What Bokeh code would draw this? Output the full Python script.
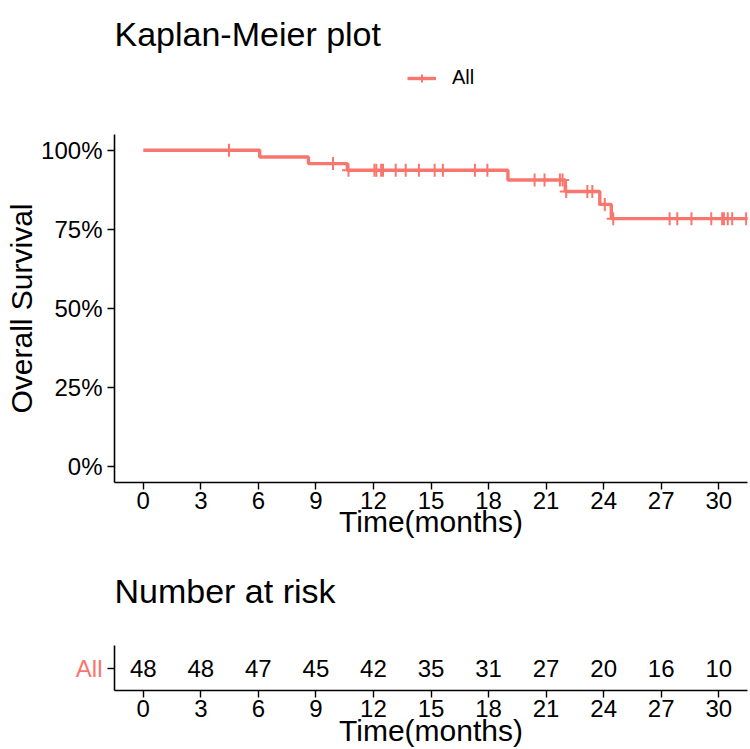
import numpy as np
from bokeh.plotting import figure
from bokeh.layouts import column
from bokeh.models import (Range1d, FixedTicker, NumeralTickFormatter, Legend, LegendItem,
                          ColumnDataSource, Label)
from bokeh.core.properties import value
from bokeh.embed import file_html
from bokeh.resources import INLINE

# ---- data ----
step_times = [0.0, 6.07, 8.61, 10.64, 19.01, 22.0, 23.8, 24.4]
surv = [1.0, 0.979, 0.958, 0.937, 0.906, 0.870, 0.829, 0.784]
curve_end = 32.0
censor_times = [4.47, 9.89, 10.7, 12.05, 12.15, 12.4, 12.5, 13.16, 13.68, 14.37,
                15.19, 15.62, 17.29, 17.94, 20.4, 20.92, 21.72, 21.86, 22.05,
                23.15, 23.41, 24.06, 24.5, 27.44, 27.84, 28.58, 29.61, 30.18,
                30.27, 30.47, 30.7, 31.43]
risk_times = [0, 3, 6, 9, 12, 15, 18, 21, 24, 27, 30]
risk_counts = [48, 48, 47, 45, 42, 35, 31, 27, 20, 16, 10]
x_ticks = [0, 3, 6, 9, 12, 15, 18, 21, 24, 27, 30]
y_ticks = [0, 0.25, 0.5, 0.75, 1.0]
group = "All"
main_title = "Kaplan-Meier plot"
risk_title = "Number at risk"
x_label = "Time(months)"
y_label = "Overall Survival"

COL = "#F8766D"
FONT = "Liberation Sans"
TICK = "24px"
AXL = "30px"
TITLE = "34px"
W = 750
LEFT = 114
RIGHT = 3

xs = step_times + [curve_end]
ys = surv + [surv[-1]]
idx = np.searchsorted(np.array(step_times), np.array(censor_times), side="right") - 1
c_y = [surv[i] for i in idx]

x_range = Range1d(-1.5, 31.5)


def style_axes(fig):
    for ax in (fig.xaxis[0], fig.yaxis[0]):
        ax.axis_line_color = "black"
        ax.axis_line_width = 1.6
        ax.major_tick_line_color = "black"
        ax.major_tick_line_width = 1.4
        ax.major_tick_out = 7
        ax.major_tick_in = 0
        ax.minor_tick_line_color = None
        ax.major_label_text_font = FONT
        ax.major_label_text_font_size = TICK
        ax.major_label_text_color = "black"
        ax.axis_label_text_font = FONT
        ax.axis_label_text_font_size = AXL
        ax.axis_label_text_font_style = "normal"
        ax.axis_label_text_color = "black"
    fig.xaxis.major_label_standoff = 2
    fig.yaxis.major_label_standoff = 5
    fig.xgrid.grid_line_color = None
    fig.ygrid.grid_line_color = None
    fig.outline_line_color = None


def header(h):
    # frame spans the header in page pixels (x) and from the top (y)
    f = figure(width=W, height=h, x_range=Range1d(LEFT, W - RIGHT),
               y_range=Range1d(h, 0), title=None,
               output_backend="svg", toolbar_location=None,
               x_axis_location=None, y_axis_location=None,
               min_border_left=LEFT, min_border_right=RIGHT,
               min_border_top=0, min_border_bottom=0)
    f.grid.grid_line_color = None
    f.outline_line_color = None
    return f


# header with title and legend
h1 = header(126)
h1.add_layout(Label(x=LEFT, y=33, text=main_title, text_font=FONT,
                    text_font_size=TITLE, text_baseline="alphabetic",
                    text_color="black"))
# legend sample renderers (same series, lying outside this header's view)
d_line = h1.step(xs, ys, mode="after", line_color=COL, line_width=3.4)
d_cross = h1.scatter(censor_times, c_y, marker="cross", size=13, line_color=COL,
                     line_width=2)
leg = Legend(items=[LegendItem(label=group, renderers=[d_line, d_cross])],
             orientation="horizontal", location=(293, 37),
             label_text_font=FONT, label_text_font_size="20px",
             label_text_color="black",
             glyph_width=29, glyph_height=20, label_standoff=16,
             border_line_color=None, background_fill_alpha=0,
             padding=0, margin=0)
h1.add_layout(leg, "center")

# main KM plot
p = figure(width=W, height=434, x_range=x_range, y_range=Range1d(-0.05, 1.05),
           title=None, output_backend="svg", toolbar_location=None,
           min_border_left=LEFT, min_border_right=RIGHT, min_border_top=8,
           min_border_bottom=78, x_axis_label=x_label, y_axis_label=y_label)
p.step(xs, ys, mode="after", line_color=COL, line_width=3.4)
p.scatter(censor_times, c_y, marker="cross", size=13, line_color=COL, line_width=2)
p.xaxis.ticker = FixedTicker(ticks=x_ticks)
p.yaxis.ticker = FixedTicker(ticks=y_ticks)
p.yaxis.formatter = NumeralTickFormatter(format="0%")
style_axes(p)
p.yaxis.axis_label_standoff = 0
p.xaxis.axis_label_standoff = -7

# header for risk table
h2 = header(50)
h2.add_layout(Label(x=LEFT, y=30, text=risk_title, text_font=FONT,
                    text_font_size=TITLE, text_baseline="alphabetic",
                    text_color="black"))

# risk table
r = figure(width=W, height=139, x_range=x_range, y_range=Range1d(0.4, 1.6),
           title=None, output_backend="svg", toolbar_location=None,
           min_border_left=LEFT, min_border_right=RIGHT, min_border_top=35,
           min_border_bottom=40, x_axis_label=x_label)
src = ColumnDataSource(dict(x=risk_times, y=[1] * len(risk_times),
                            t=[str(v) for v in risk_counts]))
r.text(x="x", y="y", text="t", source=src, text_font=value(FONT),
       text_font_size=TICK, text_align="center", text_baseline="middle",
       text_color="black")
r.xaxis.ticker = FixedTicker(ticks=x_ticks)
r.yaxis.ticker = FixedTicker(ticks=[1])
r.yaxis.major_label_overrides = {1: group}
style_axes(r)
r.yaxis.major_label_text_color = COL
r.xaxis.axis_label_standoff = -6

layout = column(h1, p, h2, r, spacing=0)
open("out.html", "w").write(file_html(layout, INLINE))
